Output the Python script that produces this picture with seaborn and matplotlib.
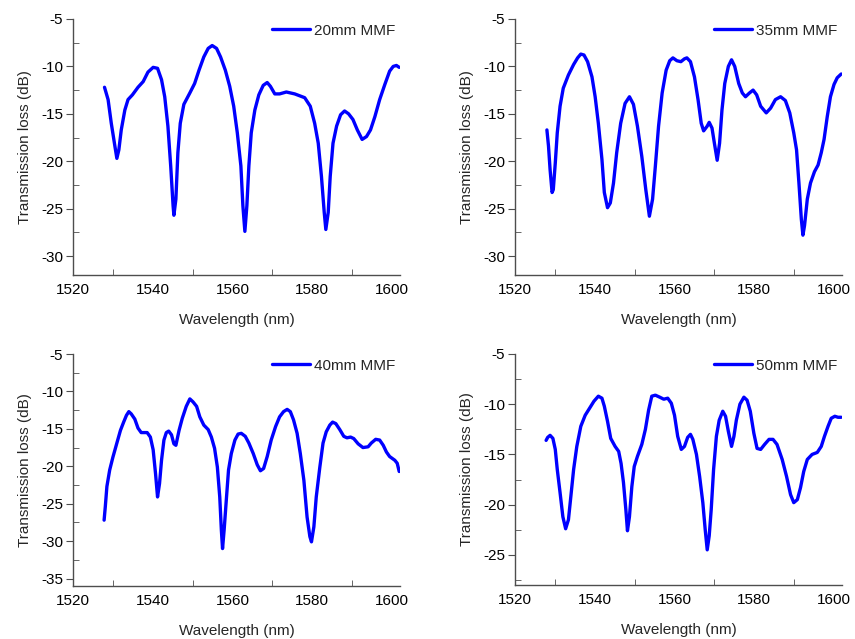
import numpy as np
import pandas as pd
import matplotlib
matplotlib.use("Agg")
import matplotlib.pyplot as plt
from matplotlib.ticker import MultipleLocator
import seaborn as sns

sns.set_style("white")
plt.rcParams['font.family'] = ['Liberation Sans', 'DejaVu Sans']
plt.rcParams['axes.unicode_minus'] = False

# ---- data ----
wl_20 = [1527.9, 1528.8, 1529.6, 1530.5, 1531.0, 1531.5, 1532.1, 1533.0, 1533.8, 1534.9,
         1536.3, 1537.6, 1538.8, 1540.1, 1541.2, 1542.2, 1543.0, 1543.8, 1544.5, 1545.1,
         1545.3, 1545.8, 1546.3, 1546.9, 1547.8, 1549.3, 1550.5, 1551.6, 1552.8, 1553.9,
         1554.9, 1556.0, 1557.0, 1558.2, 1559.3, 1560.3, 1561.2, 1562.1, 1562.6, 1563.1,
         1563.6, 1564.1, 1564.7, 1565.6, 1566.6, 1567.7, 1568.7, 1569.5, 1570.6, 1571.8,
         1573.5, 1575.6, 1578.1, 1579.5, 1580.6, 1581.5, 1582.3, 1583.0, 1583.4, 1584.0,
         1584.5, 1585.2, 1586.1, 1587.1, 1588.1, 1589.1, 1590.2, 1591.3, 1592.5, 1593.6,
         1594.6, 1595.7, 1596.9, 1598.2, 1599.4, 1600.3, 1601.1, 1601.8]
loss_20 = [-12.2, -13.5, -16.0, -18.4, -19.7, -18.8, -16.7, -14.6, -13.5, -13.0,
           -12.2, -11.6, -10.6, -10.1, -10.2, -11.4, -13.2, -16.3, -20.5, -24.7,
           -25.7, -24.0, -19.1, -16.0, -14.0, -12.8, -11.8, -10.4, -9.0, -8.1,
           -7.8, -8.1, -9.0, -10.4, -12.1, -14.2, -17.0, -20.5, -24.7, -27.4,
           -24.7, -20.5, -17.0, -14.6, -13.0, -12.0, -11.7, -12.1, -12.9, -12.9,
           -12.7, -12.9, -13.3, -14.2, -16.0, -18.1, -21.6, -25.4, -27.2, -25.4,
           -21.6, -18.1, -16.3, -15.1, -14.7, -15.0, -15.6, -16.7, -17.7, -17.4,
           -16.7, -15.3, -13.5, -11.9, -10.5, -10.0, -9.9, -10.1]

wl_35 = [1528.0, 1528.4, 1528.8, 1529.3, 1529.6, 1530.1, 1530.6, 1531.3, 1532.1, 1533.4,
         1534.7, 1535.7, 1536.5, 1537.3, 1538.2, 1539.3, 1540.1, 1540.9, 1541.8, 1542.4,
         1543.2, 1543.9, 1544.7, 1545.5, 1546.5, 1547.6, 1548.7, 1549.7, 1550.7, 1551.8,
         1552.8, 1553.7, 1554.5, 1555.2, 1556.0, 1556.9, 1557.9, 1558.8, 1559.6, 1560.6,
         1561.6, 1562.5, 1563.1, 1564.0, 1565.0, 1565.9, 1566.7, 1567.3, 1568.2, 1568.7,
         1569.4, 1570.0, 1570.7, 1571.3, 1571.9, 1572.6, 1573.5, 1574.3, 1575.1, 1576.1,
         1577.0, 1577.8, 1578.8, 1579.7, 1580.6, 1581.6, 1583.0, 1584.1, 1585.3, 1586.6,
         1587.8, 1588.9, 1589.9, 1590.6, 1591.2, 1591.8, 1592.2, 1592.6, 1593.3, 1594.1,
         1595.1, 1596.0, 1596.8, 1597.5, 1598.3, 1599.1, 1600.0, 1600.8, 1601.8]
loss_35 = [-16.7, -18.4, -20.9, -23.3, -23.0, -20.2, -17.0, -14.2, -12.3, -10.9,
           -9.8, -9.1, -8.7, -8.8, -9.5, -11.1, -13.2, -16.0, -19.8, -23.3,
           -24.9, -24.4, -22.3, -19.1, -16.0, -13.9, -13.2, -14.0, -16.3, -19.5,
           -23.0, -25.8, -24.0, -20.5, -16.3, -12.8, -10.4, -9.4, -9.1, -9.4,
           -9.5, -9.2, -9.1, -9.5, -11.1, -13.5, -16.0, -16.8, -16.3, -15.9,
           -16.5, -18.1, -19.9, -18.1, -14.6, -11.8, -10.0, -9.3, -10.0, -11.8,
           -12.8, -13.2, -12.8, -12.5, -13.0, -14.2, -14.9, -14.4, -13.5, -13.2,
           -13.6, -14.9, -17.0, -18.8, -22.3, -26.1, -27.8, -26.8, -24.0, -22.3,
           -21.1, -20.4, -19.1, -17.7, -15.3, -13.2, -11.9, -11.2, -10.8]

wl_40 = [1527.8, 1528.1, 1528.5, 1529.2, 1530.0, 1531.0, 1531.9, 1532.7, 1533.4, 1534.0,
         1534.6, 1535.5, 1536.3, 1537.1, 1538.6, 1539.4, 1540.1, 1540.7, 1541.2, 1541.7,
         1542.2, 1542.8, 1543.4, 1544.0, 1544.7, 1545.3, 1545.8, 1546.6, 1547.4, 1548.4,
         1549.3, 1550.1, 1551.0, 1551.8, 1552.8, 1553.9, 1554.7, 1555.5, 1556.2, 1556.8,
         1557.2, 1557.5, 1557.9, 1558.5, 1559.0, 1559.7, 1560.6, 1561.4, 1562.2, 1563.2,
         1564.1, 1565.2, 1566.2, 1567.0, 1567.8, 1568.7, 1569.7, 1570.8, 1571.8, 1572.8,
         1573.7, 1574.5, 1575.3, 1576.2, 1577.0, 1577.9, 1578.7, 1579.4, 1579.8, 1580.4,
         1581.0, 1581.9, 1582.7, 1583.5, 1584.4, 1585.1, 1585.9, 1586.9, 1587.9, 1588.7,
         1589.6, 1590.4, 1591.5, 1592.7, 1594.0, 1594.8, 1595.9, 1596.9, 1597.8, 1598.6,
         1599.4, 1600.7, 1601.3, 1601.8]
loss_40 = [-27.2, -25.4, -22.7, -20.5, -18.8, -16.9, -15.2, -14.1, -13.2, -12.7,
           -13.0, -13.7, -14.9, -15.5, -15.5, -16.1, -17.8, -21.0, -24.1, -22.3,
           -19.2, -16.5, -15.5, -15.3, -15.8, -17.0, -17.2, -15.2, -13.6, -12.0,
           -11.0, -11.4, -12.0, -13.4, -14.5, -15.1, -16.1, -17.6, -20.1, -24.1,
           -28.5, -31.0, -28.5, -24.1, -20.5, -18.3, -16.5, -15.7, -15.6, -16.0,
           -16.9, -18.3, -19.8, -20.6, -20.3, -18.7, -16.5, -14.7, -13.4, -12.7,
           -12.4, -12.7, -13.8, -15.6, -18.3, -21.9, -26.8, -29.4, -30.1, -28.1,
           -24.1, -20.1, -16.9, -15.4, -14.5, -14.1, -14.3, -15.1, -16.0, -16.2,
           -16.1, -16.3, -17.0, -17.5, -17.4, -16.9, -16.4, -16.5, -17.2, -18.1,
           -18.7, -19.2, -19.6, -20.7]

wl_50 = [1527.8, 1528.2, 1528.8, 1529.5, 1530.1, 1530.6, 1531.3, 1532.0, 1532.7, 1533.4,
         1534.0, 1534.7, 1535.5, 1536.5, 1537.6, 1538.7, 1539.8, 1540.9, 1541.8, 1542.4,
         1543.2, 1544.0, 1545.1, 1546.0, 1546.6, 1547.2, 1547.8, 1548.2, 1548.7, 1549.3,
         1549.9, 1550.7, 1551.8, 1552.7, 1553.5, 1554.3, 1555.2, 1556.3, 1557.3, 1558.3,
         1559.2, 1560.0, 1560.8, 1561.7, 1562.5, 1563.3, 1564.0, 1564.6, 1565.5, 1566.3,
         1567.1, 1567.7, 1568.2, 1568.7, 1569.2, 1569.8, 1570.5, 1571.2, 1572.1, 1572.8,
         1573.5, 1574.3, 1574.9, 1575.5, 1576.4, 1577.4, 1578.2, 1579.0, 1579.9, 1580.7,
         1581.6, 1582.6, 1583.7, 1584.7, 1585.7, 1587.0, 1588.1, 1589.1, 1589.9, 1590.8,
         1591.6, 1592.4, 1593.3, 1594.5, 1595.8, 1596.8, 1597.6, 1598.5, 1599.3, 1600.2,
         1601.0, 1601.8]
loss_50 = [-13.6, -13.3, -13.1, -13.4, -14.5, -16.5, -18.8, -21.2, -22.4, -21.5,
           -19.2, -16.5, -14.2, -12.2, -11.1, -10.4, -9.7, -9.2, -9.4, -10.2,
           -11.7, -13.4, -14.2, -14.7, -15.9, -17.8, -20.5, -22.6, -21.2, -18.2,
           -16.2, -15.2, -14.0, -12.5, -10.6, -9.2, -9.1, -9.3, -9.5, -9.4,
           -9.9, -11.1, -13.2, -14.5, -14.2, -13.3, -13.0, -13.5, -15.0, -17.2,
           -19.8, -22.5, -24.5, -23.1, -20.5, -16.5, -13.2, -11.6, -10.7, -11.2,
           -12.7, -14.2, -13.2, -11.6, -10.0, -9.3, -9.6, -10.7, -12.9, -14.4,
           -14.5, -14.0, -13.5, -13.5, -14.0, -15.5, -17.2, -19.0, -19.8, -19.5,
           -18.3, -16.7, -15.5, -15.0, -14.8, -14.2, -13.2, -12.2, -11.4, -11.2,
           -11.3, -11.3]

labels = ["20mm MMF", "35mm MMF", "40mm MMF", "50mm MMF"]
y_ticks = [[-30, -25, -20, -15, -10, -5],
           [-30, -25, -20, -15, -10, -5],
           [-35, -30, -25, -20, -15, -10, -5],
           [-25, -20, -15, -10, -5]]
y_lims = [(-32, -5), (-32, -5), (-36, -5), (-28, -5)]
x_ticks = [1520, 1540, 1560, 1580, 1600]

series = [(wl_20, loss_20), (wl_35, loss_35), (wl_40, loss_40), (wl_50, loss_50)]

W, H = 855, 639
fig = plt.figure(figsize=(W / 100, H / 100), dpi=100)
# axes rectangles in pixels: left, top, right, bottom
rects = [(73, 19, 400, 275), (515, 19, 842, 275), (73, 354, 400, 586), (515, 354, 842, 585)]

spine_col = "#4d4d4d"
fs = 11
for i, ((x, y), lab, (l, t, r, b)) in enumerate(zip(series, labels, rects)):
    ax = fig.add_axes([l / W, 1 - b / H, (r - l) / W, (b - t) / H])
    df = pd.DataFrame({"Wavelength": x, "Loss": y})
    sns.lineplot(data=df, x="Wavelength", y="Loss", ax=ax, color="#0000ff",
                 linewidth=2.4, label=lab, estimator=None, sort=False)
    ax.set_xlim(1520, 1602)
    ax.set_ylim(*y_lims[i])
    ax.set_xticks(x_ticks)
    ax.set_yticks(y_ticks[i])
    ax.xaxis.set_minor_locator(MultipleLocator(10))
    ax.yaxis.set_minor_locator(MultipleLocator(2.5))
    for s in ["top", "right"]:
        ax.spines[s].set_visible(False)
    for s in ["left", "bottom"]:
        ax.spines[s].set_color(spine_col)
        ax.spines[s].set_linewidth(1.0)
    ax.tick_params(axis="x", which="both", direction="in", colors=spine_col,
                   labelcolor="black", labelsize=fs, pad=6)
    ax.tick_params(axis="x", which="major", length=5)
    ax.tick_params(axis="x", which="minor", length=4, bottom=True)
    ax.tick_params(axis="y", which="major", direction="out", length=5,
                   colors=spine_col, labelcolor="black", labelsize=fs, left=True, pad=2)
    ax.tick_params(axis="y", which="minor", direction="in", length=4,
                   colors=spine_col, left=True)
    ax.set_xlabel("Wavelength (nm)", fontsize=fs, labelpad=11)
    ax.set_ylabel("Transmission loss (dB)", fontsize=fs, labelpad=7)
    ax.grid(False)
    leg = ax.legend(loc="upper right", frameon=False, fontsize=fs,
                    handlelength=2.5, handletextpad=0.25, borderaxespad=0.0,
                    borderpad=0.3)
    for line in leg.get_lines():
        line.set_linewidth(2.4)

fig.savefig("out.png", dpi=100)
